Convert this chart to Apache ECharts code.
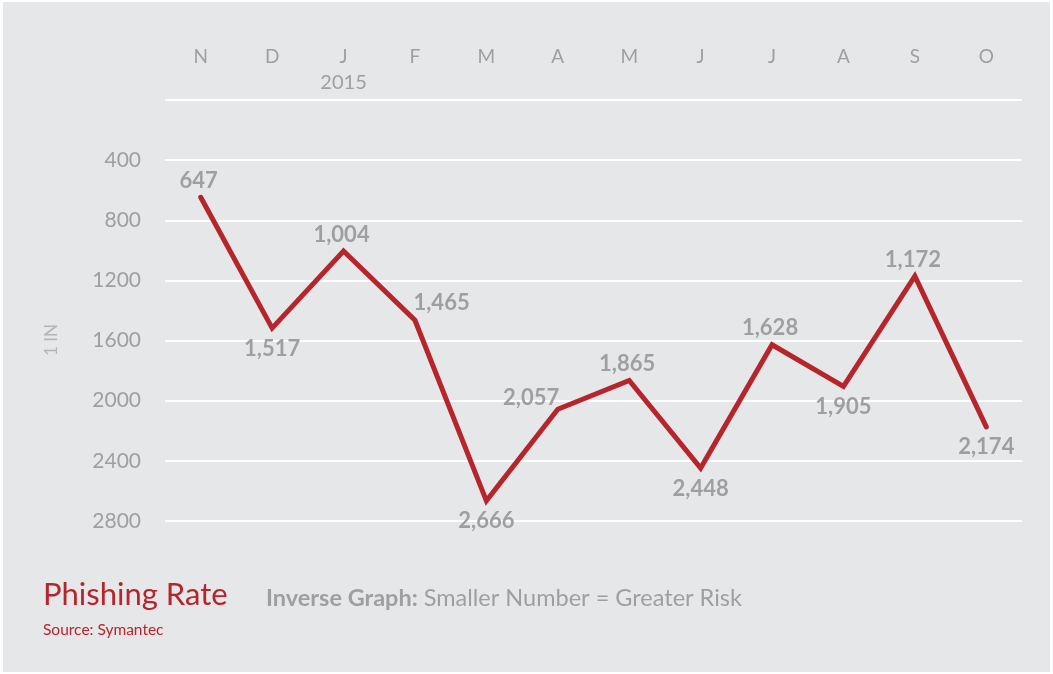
<!DOCTYPE html>
<html>
<head>
<meta charset="utf-8">
<script src="https://cdn.jsdelivr.net/npm/echarts@6/dist/echarts.min.js"></script>
<style>
  html, body { margin: 0; padding: 0; background: #ffffff; }
  #frame { position: absolute; left: 3px; top: 2px; width: 1047px; height: 670px; background: #e6e7e9; }
  #chart { width: 1047px; height: 670px; }
</style>
</head>
<body>
<div id="frame"><div id="chart"></div></div>
<script>
// Monthly phishing rate (1 in N emails), Nov 2014 – Oct 2015
const months = ['N', 'D', 'J', 'F', 'M', 'A', 'M', 'J', 'J', 'A', 'S', 'O'];
const yearMarks = ['', '', '2015', '', '', '', '', '', '', '', '', ''];
const phishingRate = [647, 1517, 1004, 1465, 2666, 2057, 1865, 2448, 1628, 1905, 1172, 2174];
// where each value label sits relative to its point
const labelSides = ['top', 'bottom', 'top', 'right', 'bottom', 'left', 'top', 'bottom', 'top', 'bottom', 'top', 'bottom'];

const FONT = 'Lato, "Open Sans", sans-serif';
const GREY = '#9e9fa1';
const RED = '#b5252b';

const labelOffsets = {
  top: [-2, 1],
  bottom: [0, 3],
  right: [-8, -17],
  left: [8, -11]
};

const chart = echarts.init(document.getElementById('chart'), null, { renderer: 'canvas' });
chart.setOption({
  backgroundColor: '#e6e7e9',
  animation: false,
  grid: { left: 162, right: 28, top: 98, bottom: 151 },
  xAxis: {
    type: 'category',
    position: 'top',
    data: months,
    boundaryGap: true,
    axisLine: { show: false },
    axisTick: { show: false },
    splitLine: { show: false },
    axisLabel: {
      margin: 4,
      color: GREY,
      fontFamily: FONT,
      formatter: (v, i) => '{m|' + v + '}\n{y|' + (yearMarks[i] || ' ') + '}',
      rich: {
        m: { fontSize: 19, lineHeight: 26, color: GREY, fontFamily: FONT },
        y: { fontSize: 20, lineHeight: 26, color: GREY, fontFamily: FONT }
      }
    }
  },
  yAxis: {
    type: 'value',
    inverse: true,
    min: 0,
    max: 2800,
    interval: 400,
    axisLine: { show: false },
    axisTick: { show: false },
    splitLine: { show: true, lineStyle: { color: '#ffffff', width: 2 } },
    axisLabel: {
      margin: 24,
      color: GREY,
      fontFamily: FONT,
      fontSize: 21,
      formatter: v => (v === 0 ? '' : String(v))
    }
  },
  series: [{
    type: 'line',
    data: phishingRate.map((v, i) => ({
      value: v,
      label: {
        position: labelSides[i],
        offset: labelOffsets[labelSides[i]]
      }
    })),
    symbol: 'circle',
    symbolSize: 1,
    itemStyle: { color: RED },
    lineStyle: { color: RED, width: 5, cap: 'round', join: 'miter' },
    label: {
      show: true,
      color: GREY,
      fontFamily: FONT,
      fontWeight: 'bold',
      fontSize: 22,
      distance: 6,
      formatter: p => p.value.toLocaleString('en-US')
    }
  }],
  graphic: [
    {
      type: 'text',
      left: 40,
      top: 322,
      rotation: Math.PI / 2,
      style: { text: '1 IN', fill: '#b3b4b6', font: '17px ' + FONT }
    },
    {
      type: 'text',
      left: 40,
      top: 577,
      style: { text: 'Phishing Rate', fill: RED, font: '31px ' + FONT }
    },
    {
      type: 'text',
      left: 263,
      top: 584,
      style: {
        text: '{b|Inverse Graph:}{n| Smaller Number = Greater Risk}',
        rich: {
          b: { fill: GREY, font: 'bold 23.5px ' + FONT },
          n: { fill: GREY, font: '23.5px ' + FONT }
        }
      }
    },
    {
      type: 'text',
      left: 40,
      top: 620,
      style: { text: 'Source: Symantec', fill: RED, font: '15.5px ' + FONT }
    }
  ]
});
</script>
</body>
</html>
